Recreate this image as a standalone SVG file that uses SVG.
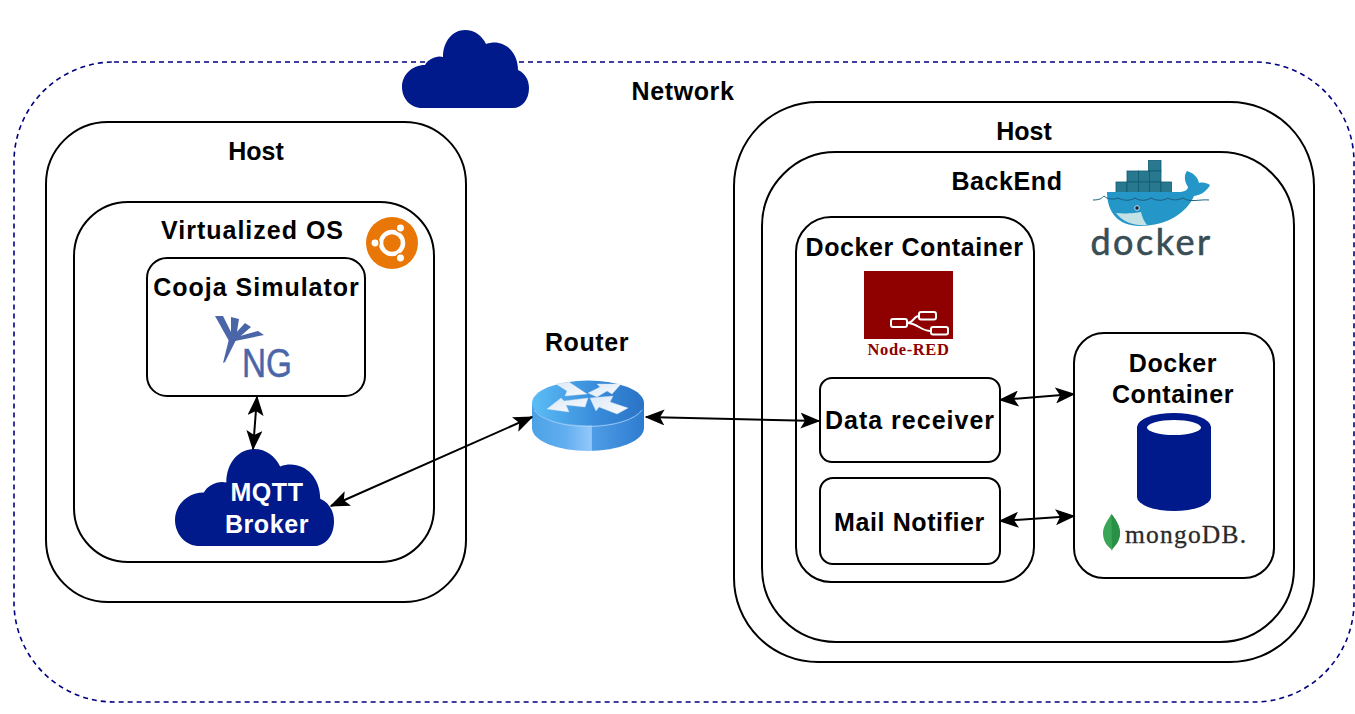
<svg xmlns="http://www.w3.org/2000/svg" width="1355" height="714" viewBox="0 0 1355 714">
<style>
.box{fill:none;stroke:#000;stroke-width:2}
.net{fill:none;stroke:#000080;stroke-width:1.6;stroke-dasharray:5 4}
.t{font-family:"Liberation Sans",Arial,sans-serif;font-weight:700;font-size:25px;letter-spacing:.6px;text-anchor:middle;fill:#000}
.s{letter-spacing:1px}
.w{fill:#fff}
.c{stroke:#000;stroke-width:2;fill:none;marker-start:url(#a);marker-end:url(#a)}
.navy{fill:#001a8c}
.cont{fill:#28788f;stroke:#0f5a70;stroke-width:.8}
.ar{fill:url(#arw);stroke:#cfe0f2;stroke-width:.4}
</style>
<defs>
<marker id="a" viewBox="0 0 20 16" refX="18.500" refY="8" markerWidth="20" markerHeight="16" markerUnits="userSpaceOnUse" orient="auto-start-reverse">
<path d="M0,0 L20,8 L0,16 L4.500,8Z" fill="#000"/>
</marker>
<linearGradient id="top" x1="0" x2="1" y1="0" y2="0"><stop offset="0" stop-color="#5bbdf6"/><stop offset=".55" stop-color="#3a8edb"/><stop offset="1" stop-color="#2a72c6"/></linearGradient>
<linearGradient id="side" x1="0" x2="1" y1="0" y2="0"><stop offset="0" stop-color="#4ba2e6"/><stop offset=".3" stop-color="#62aef0"/><stop offset=".53" stop-color="#93c7fa"/><stop offset=".54" stop-color="#4f9de6"/><stop offset="1" stop-color="#2d7cd0"/></linearGradient>
<linearGradient id="arw" x1="0" x2="1" y1="0" y2="1"><stop offset="0" stop-color="#dbe8f8"/><stop offset="1" stop-color="#fafbfd"/></linearGradient>
<path id="cloud" d="M422,108 C410,108 402,98 402,87 C402,75 412,65 425,65 C428,59 437,55 443,57 C443,41 453,30 465,30 C475,30 482,36 486,44 C502,38 518,50 518,70 C525,73 529,80 529,88 C529,100 522,108 513,108 Z"/>
</defs>

<g id="network">
<rect class="net" x="14" y="62" width="1340" height="640" rx="100" ry="100"/>
<use href="#cloud" class="navy"/>
<text class="t" x="683" y="100">Network</text>
</g>

<g id="host-left">
<rect class="box" x="46" y="122" width="420" height="480" rx="62" ry="62"/>
<text class="t" x="256" y="160" style="letter-spacing:0">Host</text>
</g>
<g id="virtualized-os">
<rect class="box" x="74" y="202" width="360" height="360" rx="54" ry="54"/>
<text class="t s" x="252.500" y="239">Virtualized OS</text>
<circle cx="392" cy="243" r="26" fill="#e97708"/>
<circle cx="392" cy="243" r="11" fill="none" stroke="#fff" stroke-width="4.500"/>
<g fill="#fff" stroke="#e97708" stroke-width="1.500">
<circle cx="375" cy="243" r="4.200"/>
<circle cx="400.500" cy="228" r="4.200"/>
<circle cx="400.500" cy="258" r="4.200"/>
</g>
</g>
<g id="cooja-simulator">
<rect class="box" x="147" y="258" width="218" height="138" rx="20" ry="20"/>
<text class="t s" x="256.500" y="296">Cooja Simulator</text>
<g fill="#4a66a8">
<path d="M215,316 L223,316 L234,338 L229,341Z"/>
<path d="M231,317 L239,319 L236,338 L231,337Z"/>
<path d="M245,323 L251,327 L236,340 L233,336Z"/>
<path d="M258,331 L264,335 L235,341 L233,338Z"/>
<path d="M230,335 L236,340 L225,362 L223,363Z"/>
<text x="242" y="377" font-family="'Liberation Sans',Arial,sans-serif" font-size="40" textLength="50" lengthAdjust="spacingAndGlyphs" stroke="#4a66a8" stroke-width=".5">NG</text>
</g>
</g>
<g id="mqtt-broker">
<use href="#cloud" class="navy" transform="translate(175,449) scale(1.252,1.244) translate(-402,-30)"/>
<text class="t w" x="267" y="501">MQTT</text>
<text class="t w" x="267" y="533">Broker</text>
</g>

<g id="router">
<path d="M532,403 V428 A56,23 0 0 0 644,428 V403Z" fill="url(#side)"/>
<ellipse cx="588" cy="403" rx="56" ry="22.500" fill="url(#top)"/>
<path d="M534,410 A56,22.500 0 0 0 642,410" fill="none" stroke="#a9d3f7" stroke-width=".8"/>
<polygon class="ar" points="556,384 569,382 587,394 565,396 567,391"/>
<polygon class="ar" points="547,409 561,398 564,401 588,398 585,407 566,405 569,412"/>
<polygon class="ar" points="621,384 597,384 600,387 588,393 597,397 607,391 612,394"/>
<polygon class="ar" points="590,398 613,396 610,402 628,408 617,414 599,407 596,411"/>
<text class="t" x="587" y="351">Router</text>
</g>

<g id="host-right">
<rect class="box" x="734" y="102" width="580" height="560" rx="84" ry="84"/>
<text class="t" x="1024" y="140" style="letter-spacing:0">Host</text>
</g>
<g id="backend">
<rect class="box" x="762" y="152" width="532" height="490" rx="74" ry="74"/>
<text class="t" x="1007" y="190">BackEnd</text>
<g id="docker-logo">
<rect class="cont" x="1148.500" y="160.500" width="12.500" height="10.500"/>
<rect class="cont" x="1127" y="171" width="11.500" height="11"/>
<rect class="cont" x="1138.500" y="171" width="11" height="11"/>
<rect class="cont" x="1149.500" y="171" width="11.500" height="11"/>
<rect class="cont" x="1116" y="182" width="11" height="10.500"/>
<rect class="cont" x="1127" y="182" width="11.500" height="10.500"/>
<rect class="cont" x="1138.500" y="182" width="11" height="10.500"/>
<rect class="cont" x="1149.500" y="182" width="11.500" height="10.500"/>
<rect class="cont" x="1161" y="182" width="10.500" height="10.500"/>
<path d="M1107,192 H1178 C1184,192 1188,190 1188,187 C1184,181 1184,175 1187,171 C1194,173 1198,178 1199,183 C1203,182 1207,183 1210,185 C1207,191 1201,195 1194,196 C1187,212 1168,226 1140,226 C1118,226 1107,212 1107,192Z" fill="#2496c8"/>
<path d="M1116,213 C1125,214 1136,213 1141,212 C1142,217 1144,221 1147,225 C1132,226 1122,221 1116,213Z" fill="#c3e2e6"/>
<path d="M1093,200 C1100,200 1102,198 1104,196 C1107,199 1113,200 1118,198 C1124,201 1130,201 1135,198 C1140,201 1146,201 1151,198 C1157,201 1163,201 1168,198 C1173,201 1178,200 1183,198 C1190,203 1200,199 1209,200" fill="none" stroke="#1c5f7c" stroke-width="1"/>
<circle cx="1137" cy="208" r="2.300" fill="#123" stroke="#cde" stroke-width="1"/>
<text x="1151.500" y="255" font-family="Lato,'Open Sans',sans-serif" font-size="36" text-anchor="middle" fill="#394d54" stroke="#394d54" stroke-width=".6" letter-spacing="2.500">docker</text>
</g>
</g>
<g id="docker-container-1">
<rect class="box" x="796" y="217" width="238" height="365" rx="35" ry="35"/>
<text class="t" x="914.500" y="256">Docker Container</text>
<rect x="864" y="271" width="89" height="68" fill="#8f0000"/>
<g fill="none" stroke="#fff" stroke-width="2">
<rect x="891" y="319" width="16" height="8" rx="2"/>
<rect x="919" y="312" width="17" height="7.500" rx="2"/>
<rect x="931" y="327" width="17" height="7.500" rx="2"/>
<path d="M907,323 C914,323 913,316 919,316 M907,323 C918,323 920,331 931,331"/>
</g>
<text x="908.500" y="355" font-family="'Liberation Serif',serif" font-weight="700" font-size="16.500" text-anchor="middle" fill="#8f0000" letter-spacing=".6">Node-RED</text>
</g>
<g id="data-receiver">
<rect class="box" x="820" y="378" width="180" height="84" rx="12" ry="12"/>
<text class="t s" x="910" y="429">Data receiver</text>
</g>
<g id="mail-notifier">
<rect class="box" x="820" y="478" width="180" height="86" rx="13" ry="13"/>
<text class="t" x="909.500" y="531">Mail Notifier</text>
</g>
<g id="docker-container-2">
<rect class="box" x="1074" y="333" width="200" height="245" rx="30" ry="30"/>
<text class="t" x="1173" y="372">Docker</text>
<text class="t" x="1173" y="403">Container</text>
<path d="M1137,427 A37,14 0 0 1 1211,427 V497 A37,14 0 0 1 1137,497Z" class="navy"/>
<ellipse cx="1174" cy="427.500" rx="27" ry="7.500" fill="#fff"/>
<path d="M1111.500,514 C1116,520 1120,526 1120,533 C1120,541 1115,546 1112.500,549 L1112,551 L1111,549 C1107,546 1103,541 1103,533 C1103,526 1108,520 1111.500,514Z" fill="#3aa655"/>
<path d="M1111.500,514 C1116,520 1120,526 1120,533 C1120,541 1115,546 1112,549Z" fill="#2a8f47"/>
<text x="1125" y="543" font-family="'Liberation Serif',serif" font-size="25.500" letter-spacing="1.200" fill="#2a2a2a" stroke="#2a2a2a" stroke-width=".3">mongoDB.</text>
</g>

<g id="connectors">
<path class="c" d="M257,397 L253,449"/>
<path class="c" d="M331,506 L532,417"/>
<path class="c" d="M646,417 L819,421"/>
<path class="c" d="M1000,400 L1074,394"/>
<path class="c" d="M1000,521 L1074,516"/>
</g>
</svg>
